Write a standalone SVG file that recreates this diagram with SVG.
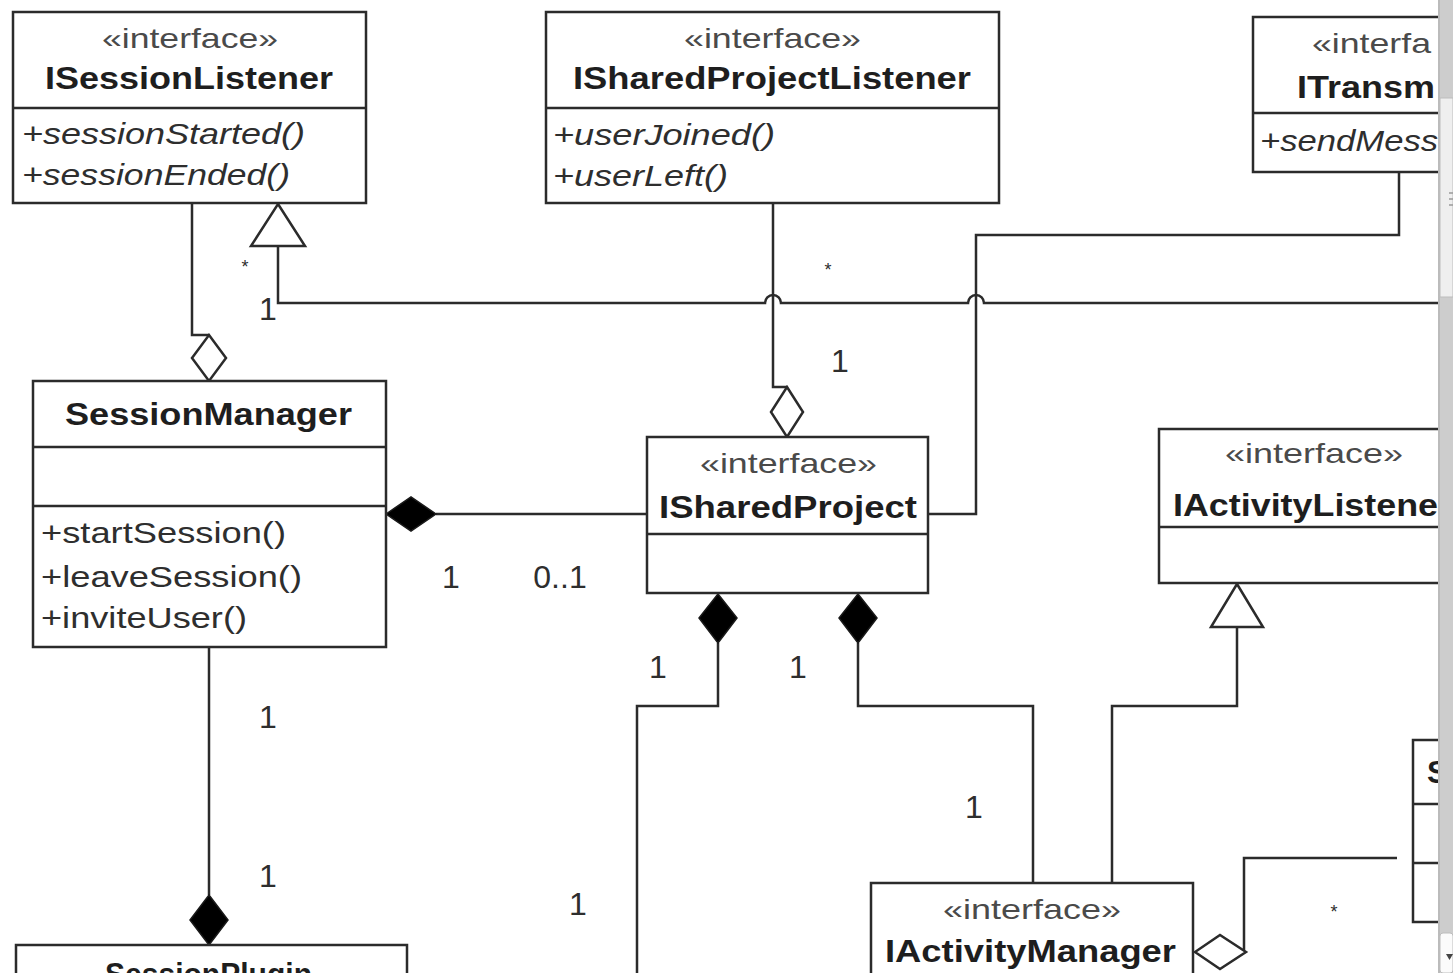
<svg xmlns="http://www.w3.org/2000/svg" width="1453" height="973" viewBox="0 0 1453 973">
<style>
  .box { fill: #ffffff; stroke: #2b2b2b; stroke-width: 2.5; }
  .div { stroke: #2b2b2b; stroke-width: 2.5; }
  .st { font-family: "Liberation Sans", Arial, sans-serif; font-size: 28px; fill: #4a4a4a; }
  .nm { font-family: "Liberation Sans", Arial, sans-serif; font-size: 31px; font-weight: bold; fill: #1e1e1e; }
  .op { font-family: "Liberation Sans", Arial, sans-serif; font-size: 30px; fill: #2e2e2e; }
  .it { font-style: italic; }
  .ln { fill: none; stroke: #2b2b2b; stroke-width: 2.5; }
  .hol { fill: #ffffff; stroke: #2b2b2b; stroke-width: 2.5; stroke-linejoin: miter; }
  .fil { fill: #000000; stroke: #1a1a1a; stroke-width: 1.5; }
  .mul { font-family: "Liberation Sans", Arial, sans-serif; font-size: 32px; fill: #2e2e2e; text-anchor: middle; }
  .ast { font-family: "Liberation Sans", Arial, sans-serif; font-size: 18px; fill: #2e2e2e; text-anchor: middle; }
</style>
<rect x="0" y="0" width="1453" height="973" fill="#ffffff"/>

<g id="connectors">
  <!-- ISessionListener - SessionManager aggregation -->
  <path class="ln" d="M192 203 V335 H209"/>
  <polygon class="hol" points="209,335 226,358 209,381 192,358"/>
  <!-- generalization to ISessionListener with hops -->
  <path class="ln" d="M278 246 V303 H765 A8 8 0 0 1 781 303 H968 A8 8 0 0 1 984 303 H1440"/>
  <polygon class="hol" points="278,204 305,246 251,246"/>
  <!-- ISharedProjectListener - ISharedProject aggregation -->
  <path class="ln" d="M773 203 V387 H787"/>
  <polygon class="hol" points="787,387 803,412 787,437 771,412"/>
  <!-- ITransmitter - ISharedProject -->
  <path class="ln" d="M1399 172 V235 H976 V514 H928"/>
  <!-- SessionManager composition ISharedProject -->
  <path class="ln" d="M436 514 H647"/>
  <polygon class="fil" points="386,514 411,497 436,514 411,531"/>
  <!-- ISharedProject compositions bottom -->
  <path class="ln" d="M718 643 V706 H637 V975"/>
  <polygon class="fil" points="718,594 737,618 718,643 699,618"/>
  <path class="ln" d="M858 643 V706 H1033 V883"/>
  <polygon class="fil" points="858,594 877,618 858,643 839,618"/>
  <!-- IActivityManager generalization to IActivityListener -->
  <path class="ln" d="M1112 883 V706 H1237 V627"/>
  <polygon class="hol" points="1237,584 1263,627 1211,627"/>
  <!-- IActivityManager aggregation -->
  <path class="ln" d="M1244 950 V858 H1397"/>
  <polygon class="hol" points="1195,952 1220,935 1246,952 1220,969"/>
  <!-- SessionManager - SessionPlugin -->
  <path class="ln" d="M209 647 V895"/>
  <polygon class="fil" points="209,895 228,920 209,945 190,920"/>

  <!-- multiplicities -->
  <text class="ast" x="245" y="273">*</text>
  <text class="mul" x="268" y="320">1</text>
  <text class="ast" x="828" y="276">*</text>
  <text class="mul" x="840" y="372">1</text>
  <text class="mul" x="451" y="588">1</text>
  <text class="mul" x="560" y="588">0..1</text>
  <text class="mul" x="658" y="678">1</text>
  <text class="mul" x="798" y="678">1</text>
  <text class="mul" x="268" y="728">1</text>
  <text class="mul" x="268" y="887">1</text>
  <text class="mul" x="578" y="915">1</text>
  <text class="mul" x="974" y="818">1</text>
  <text class="ast" x="1334" y="918">*</text>
</g>

<g id="ISessionListener">
  <rect class="box" x="13" y="12" width="353" height="191"/>
  <line class="div" x1="13" y1="108" x2="366" y2="108"/>
  <text class="st" x="102" y="48" textLength="176" lengthAdjust="spacingAndGlyphs">«interface»</text>
  <text class="nm" x="45" y="89" textLength="288" lengthAdjust="spacingAndGlyphs">ISessionListener</text>
  <text class="op it" x="22" y="144" textLength="283" lengthAdjust="spacingAndGlyphs">+sessionStarted()</text>
  <text class="op it" x="22" y="185" textLength="268" lengthAdjust="spacingAndGlyphs">+sessionEnded()</text>
</g>

<g id="ISharedProjectListener">
  <rect class="box" x="546" y="12" width="453" height="191"/>
  <line class="div" x1="546" y1="108" x2="999" y2="108"/>
  <text class="st" x="684" y="48" textLength="177" lengthAdjust="spacingAndGlyphs">«interface»</text>
  <text class="nm" x="573" y="89" textLength="398" lengthAdjust="spacingAndGlyphs">ISharedProjectListener</text>
  <text class="op it" x="553" y="145" textLength="222" lengthAdjust="spacingAndGlyphs">+userJoined()</text>
  <text class="op it" x="553" y="186" textLength="175" lengthAdjust="spacingAndGlyphs">+userLeft()</text>
</g>

<g id="ITransmitter">
  <rect class="box" x="1253" y="17" width="200" height="155"/>
  <line class="div" x1="1253" y1="113" x2="1453" y2="113"/>
  <text class="st" x="1312" y="53" textLength="119" lengthAdjust="spacingAndGlyphs">«interfa</text>
  <text class="nm" x="1297" y="98" textLength="138" lengthAdjust="spacingAndGlyphs">ITransm</text>
  <text class="op it" x="1260" y="151" textLength="178" lengthAdjust="spacingAndGlyphs">+sendMess</text>
</g>

<g id="SessionManager">
  <rect class="box" x="33" y="381" width="353" height="266"/>
  <line class="div" x1="33" y1="447" x2="386" y2="447"/>
  <line class="div" x1="33" y1="506" x2="386" y2="506"/>
  <text class="nm" x="65" y="425" textLength="287" lengthAdjust="spacingAndGlyphs">SessionManager</text>
  <text class="op" x="41" y="543" textLength="245" lengthAdjust="spacingAndGlyphs">+startSession()</text>
  <text class="op" x="41" y="587" textLength="261" lengthAdjust="spacingAndGlyphs">+leaveSession()</text>
  <text class="op" x="41" y="628" textLength="206" lengthAdjust="spacingAndGlyphs">+inviteUser()</text>
</g>

<g id="ISharedProject">
  <rect class="box" x="647" y="437" width="281" height="156"/>
  <line class="div" x1="647" y1="534" x2="928" y2="534"/>
  <text class="st" x="700" y="473" textLength="177" lengthAdjust="spacingAndGlyphs">«interface»</text>
  <text class="nm" x="659" y="518" textLength="258" lengthAdjust="spacingAndGlyphs">ISharedProject</text>
</g>

<g id="IActivityListener">
  <rect class="box" x="1159" y="429" width="294" height="154"/>
  <line class="div" x1="1159" y1="527" x2="1453" y2="527"/>
  <text class="st" x="1225" y="463" textLength="178" lengthAdjust="spacingAndGlyphs">«interface»</text>
  <text class="nm" x="1173" y="516" textLength="265" lengthAdjust="spacingAndGlyphs">IActivityListene</text>
</g>

<g id="IActivityManager">
  <rect class="box" x="871" y="883" width="322" height="120"/>
  <text class="st" x="943" y="919" textLength="178" lengthAdjust="spacingAndGlyphs">«interface»</text>
  <text class="nm" x="885" y="962" textLength="291" lengthAdjust="spacingAndGlyphs">IActivityManager</text>
</g>

<g id="SessionPlugin">
  <rect class="box" x="16" y="945" width="391" height="60"/>
  <text class="nm" x="105" y="985" textLength="207" lengthAdjust="spacingAndGlyphs">SessionPlugin</text>
</g>

<g id="SBox">
  <rect class="box" x="1413" y="740" width="40" height="182"/>
  <line class="div" x1="1413" y1="804" x2="1453" y2="804"/>
  <line class="div" x1="1413" y1="863" x2="1453" y2="863"/>
  <text class="nm" x="1427" y="783">S</text>
</g>

<g id="scrollbar">
  <rect x="1438" y="0" width="15" height="973" fill="#cdcdcd"/>
  <line x1="1439" y1="0" x2="1439" y2="973" stroke="#b5b5b5" stroke-width="1.5"/>
  <rect x="1440" y="98" width="13" height="199" fill="#efefef" stroke="#bdbdbd" stroke-width="1"/>
  <line x1="1449" y1="193" x2="1453" y2="193" stroke="#9a9a9a" stroke-width="1.5"/>
  <line x1="1449" y1="199" x2="1453" y2="199" stroke="#9a9a9a" stroke-width="1.5"/>
  <line x1="1449" y1="205" x2="1453" y2="205" stroke="#9a9a9a" stroke-width="1.5"/>
  <rect x="1440" y="933" width="13" height="40" rx="3" fill="#fbfbfb" stroke="#bdbdbd" stroke-width="1"/>
  <polygon points="1446,954 1453,954 1449.5,960" fill="#444"/>
</g>
</svg>
